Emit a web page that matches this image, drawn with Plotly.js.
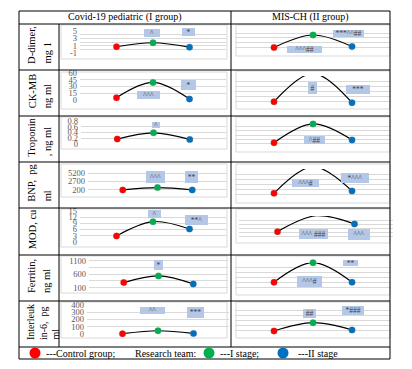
<!DOCTYPE html>
<html><head><meta charset="utf-8">
<script src="https://cdn.plot.ly/plotly-3.0.1.min.js"></script>
<style>html,body{margin:0;padding:0;background:#fff}#chart{width:412px;height:369px}</style>
</head><body><div id="chart"></div>
<script>
// ---------- data ----------
const stages = ["Control group", "I stage", "II stage"];
const columnTitles = ["Covid-19 pediatric (I group)", "MIS-CH (II group)"];
const rowLabelLines = [["D-dimer,", "mg 1"], ["CK-MB", "ng ml"], ["Troponin", ", ng ml"], ["BNP,  pg", "ml"], ["MOD, cu"], ["Ferritin,", "ng ml"], ["Interleuk", "in-6,  pg", "ml"]];

const ddimerCovid = [0.7, 1.8, 0.6];
const ddimerMis = [1.0, 3.6, 1.2];
const ckmbCovid = [5, 39, 2];
const ckmbMis = [17, 130, 13];
const troponinCovid = [0.17, 0.39, 0.16];
const troponinMis = [0.24, 1.11, 0.37];
const bnpCovid = [200, 900, 220];
const bnpMis = [1140, 6460, 1600];
const modCovid = [2.8, 9.8, 6.2];
const modMis = [6.6, 18.2, 12.2];
const ferritinCovid = [290, 540, 240];
const ferritinMis = [400, 1200, 400];
const il6Covid = [5, 45, 8];
const il6Mis = [80, 246, 100];

const ddimerTicks = [-1, 0, 1, 2, 3, 4, 5];
const ddimerTickText = ["-1", "", "1", "", "3", "", "5"];
const ckmbTicks = [0, 15, 30, 45, 60];
const ckmbTickText = ["0", "15", "30", "45", "60"];
const troponinTicks = [0, 0.2, 0.4, 0.6, 0.8];
const troponinTickText = ["0", "0.2", "0.4", "0.6", "0.8"];
const bnpTicks = [200, 2700, 5200];
const bnpTickText = ["200", "2700", "5200"];
const modTicks = [0, 3, 6, 9, 12, 15];
const modTickText = ["0", "3", "6", "9", "12", "15"];
const ferritinTicks = [100, 350, 600, 850, 1100];
const ferritinTickText = ["100", "", "600", "", "1100"];
const il6Ticks = [0, 100, 200, 300, 400];
const il6TickText = ["0", "100", "200", "300", "400"];

const covidMarks = [["^", "*"], ["^^^", "*"], ["^"], ["^^^", "**"], ["^", "**^"], ["*"], ["^^", "***"]];
const misMarks = [["***^^##", "^^^##"], ["#", "***"], ["^##"], ["^^^#", "*^^^"], ["^^^ ###", "^^^"], ["**", "^^^#"], ["##", "*###"]];

const legendTexts = ["---Control group;", "Research team:", "---I stage;", "---II stage"];

// ---------- layout constants ----------
const W = 412, H = 369;
const fx = x => x / W, fy = y => 1 - y / H;
const stageColors = ["#ff0000", "#00b050", "#0070c0"];
const serif = "Liberation Serif";

const covidSeries = [ddimerCovid, ckmbCovid, troponinCovid, bnpCovid, modCovid, ferritinCovid, il6Covid];
const misSeries = [ddimerMis, ckmbMis, troponinMis, bnpMis, modMis, ferritinMis, il6Mis];
const leftTicks = [ddimerTicks, ckmbTicks, troponinTicks, bnpTicks, modTicks, ferritinTicks, il6Ticks];
const leftTickText = [ddimerTickText, ckmbTickText, troponinTickText, bnpTickText, modTickText, ferritinTickText, il6TickText];

const leftPlot = [[80,226,31,53],[80,226,73,100],[81,226,121,144],[88,227,169,194],[80,226,211,241.7],[89,228,258,291],[87,229,305,334]];
const rightPlot = [[235,391,28.3,52.3],[235,391,76,106],[235,391,122,148],[235,391,169,199],[239,393,216,240.7],[235,391,262.7,292],[235,391,305,335]];
const leftRange = [[-1,5],[0,60],[0,0.8],[-1000,6400],[0,15],[-25,1210],[0,400]];
const rightRange = [[0,5],[0,120],[0,1.2],[0,6000],[0,18],[0,1200],[0,600]];
const rightDtick = [1,20,0.2,1000,3,200,100];
const leftBox = [[61,227,25,59],[61,227,72,109],[61,227,117,149],[61,227,164,197],[61,227,209,247],[61,227,256,293],[61,227,302,338]];
const rightBox = [[236,390,25,56],[236,390,71,109],[236,390,117,152],[236,390,164,203],[236,390,209,243],[236,390,256,295],[236,390,302,338]];
const covidMarkBoxes = [
 [[152,33,16,8],[188.5,32,13,8]],
 [[148.5,95,23,8],[188.5,85,15,10]],
 [[156,125,8,6]],
 [[155.5,177,19,12],[191.5,177,13,12]],
 [[154.5,214,13,8],[196.5,220,23,10]],
 [[158.5,265,9,10]],
 [[152.5,310.5,25,7],[195.5,312.5,17,11]]];
const misMarkBoxes = [
 [[348.5,33.5,31,7],[304.5,49.5,35,7]],
 [[312.5,88,9,12],[358,89.5,24,9]],
 [[314.5,140,21,8]],
 [[305.5,183,27,8],[355,178,28,10]],
 [[313.5,234,29,10],[359,234.5,22,11]],
 [[350.5,263,15,6],[309.5,281.5,25,11]],
 [[309.5,313.5,13,9],[353,310.5,22,9]]];
const rowEdges = [24, 70, 116, 162, 208, 255, 301, 347];
const labelLineX = [[32,47],[32,47],[32,47],[32,47],[32],[31,46],[30,43,56]];

const traces = [], shapes = [], annotations = [];
const layout = {
  width: W, height: H, margin: {l:0, r:0, t:0, b:0},
  paper_bgcolor: "#ffffff", plot_bgcolor: "rgba(0,0,0,0)",
  showlegend: false, font: {family: serif, color: "#000"}
};

function addPanel(n, rect, range, series, tickvals, ticktext, dtick) {
  const xs = n === 1 ? "" : String(n);
  layout["xaxis" + xs] = {
    domain: [fx(rect[0]), fx(rect[1])], range: [-1, 3], type: "category",
    showgrid: false, zeroline: false, showline: false, showticklabels: false, ticks: "",
    anchor: "y" + xs, fixedrange: true
  };
  const ya = {
    domain: [fy(rect[3]), fy(rect[2])], range: range,
    showgrid: true, gridcolor: "#d9d9d9", gridwidth: 1, zeroline: false, showline: false, ticks: "",
    anchor: "x" + xs, fixedrange: true,
    tickfont: {family: serif, size: 8.5, color: "#595959"}, ticklabelstandoff: 2
  };
  if (tickvals) { ya.tickmode = "array"; ya.tickvals = tickvals; ya.ticktext = ticktext; ya.showticklabels = true; }
  else { ya.tickmode = "linear"; ya.tick0 = range[0]; ya.dtick = dtick; ya.showticklabels = false; }
  layout["yaxis" + xs] = ya;
  traces.push({
    type: "scatter", x: stages, y: series, xaxis: "x" + xs, yaxis: "y" + xs,
    mode: "lines+markers", cliponaxis: false, hoverinfo: "skip",
    line: {shape: "spline", smoothing: 1, color: "#000000", width: 1.2},
    marker: {size: 6.5, color: stageColors, line: {width: 1, color: "rgba(120,120,120,0.25)"}}
  });
}

function rect(x0, x1, y0, y1, color, width) {
  shapes.push({type: "rect", xref: "paper", yref: "paper", x0: fx(x0), x1: fx(x1), y0: fy(y1), y1: fy(y0),
    line: {color: color, width: width}, fillcolor: "rgba(0,0,0,0)", layer: "below"});
}
function line(x0, y0, x1, y1) {
  shapes.push({type: "line", xref: "paper", yref: "paper", x0: fx(x0), x1: fx(x1), y0: fy(y0), y1: fy(y1),
    line: {color: "#000000", width: 1}});
}
function markBox(b, text) {
  annotations.push({xref: "paper", yref: "paper", x: fx(b[0]), y: fy(b[1]), xanchor: "center", yanchor: "middle",
    text: text, showarrow: false, width: b[2], height: b[3], bgcolor: "#b4c7e7", borderpad: 0, borderwidth: 0,
    font: {family: serif, size: 7.5, color: "#404040"}, align: "center", valign: "middle"});
}

for (let i = 0; i < 7; i++) {
  rect(leftBox[i][0], leftBox[i][1], leftBox[i][2], leftBox[i][3], "#d9d9d9", 1);
  rect(rightBox[i][0], rightBox[i][1], rightBox[i][2], rightBox[i][3], "#d9d9d9", 1);
  addPanel(2 * i + 1, leftPlot[i], leftRange[i], covidSeries[i], leftTicks[i], leftTickText[i], null);
  addPanel(2 * i + 2, rightPlot[i], rightRange[i], misSeries[i], null, null, rightDtick[i]);
  covidMarks[i].forEach((t, k) => markBox(covidMarkBoxes[i][k], t));
  misMarks[i].forEach((t, k) => markBox(misMarkBoxes[i][k], t));
}

// table lines
line(19, 11, 390, 11); line(19, 359, 390, 359); line(19, 11, 19, 359); line(390, 11, 390, 359);
rowEdges.forEach(y => line(19, y, 390, y));
line(59, 24, 59, 347); line(231, 11, 231, 347);

// headers
annotations.push({xref:"paper", yref:"paper", x: fx(125), y: fy(17.5), xanchor:"center", yanchor:"middle",
  text: columnTitles[0], showarrow:false, font:{family: serif, size: 10, color:"#000"}});
annotations.push({xref:"paper", yref:"paper", x: fx(310.5), y: fy(17.5), xanchor:"center", yanchor:"middle",
  text: columnTitles[1], showarrow:false, font:{family: serif, size: 10, color:"#000"}});

// row labels (rotated, bottom-aligned lines, block centred on row)
const ctx = document.createElement("canvas").getContext("2d");
for (let i = 0; i < 7; i++) {
  const fs = i === 6 ? 10 : 10.5;
  ctx.font = fs + "px 'Liberation Serif'";
  const maxW = Math.max(...rowLabelLines[i].map(s => ctx.measureText(s).width));
  const centre = (rowEdges[i] + rowEdges[i + 1]) / 2;
  const bottom = centre + maxW / 2;
  rowLabelLines[i].forEach((s, k) => {
    annotations.push({xref:"paper", yref:"paper", x: fx(labelLineX[i][k]), y: fy(bottom), xanchor:"center", yanchor:"bottom",
      text: s.replace(/ /g, "&nbsp;"), textangle: -90, showarrow:false, font:{family: serif, size: fs, color:"#000"}});
  });
}

// legend row
const legendCircles = [[35, stageColors[0]], [209, stageColors[1]], [283, stageColors[2]]];
legendCircles.forEach(c => shapes.push({type:"circle", xref:"paper", yref:"paper",
  x0: fx(c[0] - 5.5), x1: fx(c[0] + 5.5), y0: fy(358.5), y1: fy(347.5), fillcolor: c[1], line:{width:0}}));
const legendX = [44, 133, 218, 296];
legendTexts.forEach((t, k) => annotations.push({xref:"paper", yref:"paper", x: fx(legendX[k]), y: fy(353), xanchor:"left", yanchor:"middle",
  text: t.replace(/ /g, "&nbsp;"), showarrow:false, font:{family: serif, size: 10, color:"#000"}}));

layout.shapes = shapes;
layout.annotations = annotations;
Plotly.newPlot("chart", traces, layout, {staticPlot: true, displayModeBar: false});
</script></body></html>
